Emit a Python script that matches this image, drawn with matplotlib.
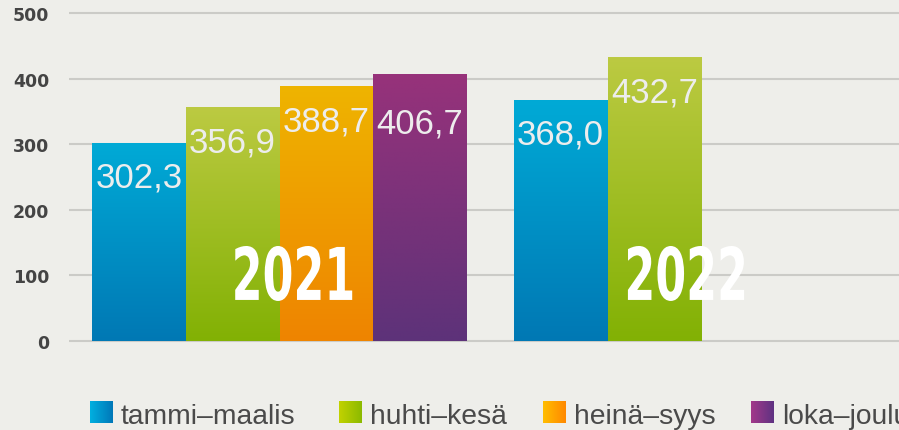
import numpy as np
import matplotlib.pyplot as plt
import matplotlib.transforms as mtransforms
from matplotlib.colors import LinearSegmentedColormap
from matplotlib.textpath import TextPath
from matplotlib.patches import PathPatch
from matplotlib.font_manager import FontProperties

# data
years = ['2021', '2022']
quarters = ['tammi–maalis', 'huhti–kesä', 'heinä–syys', 'loka–joulu']
values_2021 = [302.3, 356.9, 388.7, 406.7]
values_2022 = [368.0, 432.7]
yticks = [0, 100, 200, 300, 400, 500]

# colours: bar gradients (top / bottom) and legend gradients (left / right)
bar_top = ['#00aad6', '#bcca42', '#efb400', '#97327b']
bar_bottom = ['#0078b4', '#82b104', '#ee8400', '#5d3279']
legend_left = ['#00b0e0', '#c2d200', '#ffbe00', '#a3398a']
legend_right = ['#0077b8', '#8bba00', '#ff8800', '#5e3282']
bg = '#eeeeea'

W, H = 899, 431
fig = plt.figure(figsize=(W / 100, H / 100), dpi=100, facecolor=bg)
ax = fig.add_axes([69 / W, (H - 348.2) / H, 830 / W, (348.2 - 7.75) / H])
ax.set_facecolor(bg)

series = [values_2021, values_2022]
group_start = [0, 4.5]
# how far below the bar top the value label baseline sits (points)
label_drop = [[31.7, 31.7, 31.7, 41.8], [31.7, 31.7]]

def fmt(v):
    return f'{v:.1f}'.replace('.', ',')

vgrad = np.linspace(0, 1, 256).reshape(-1, 1)
for g, vals in enumerate(series):
    xs = group_start[g] + np.arange(len(vals))
    bars = ax.bar(xs, vals, width=1.0, color=bar_top[:len(vals)], zorder=2)
    for i, b in enumerate(bars):
        cmap = LinearSegmentedColormap.from_list('', [bar_bottom[i], bar_top[i]])
        x0, w, h = b.get_x(), b.get_width(), b.get_height()
        ax.imshow(vgrad, cmap=cmap, extent=[x0, x0 + w, 0, h], origin='lower',
                  aspect='auto', zorder=2.1)
        ax.annotate(fmt(vals[i]), xy=(x0, h), xytext=(2.2, -label_drop[g][i]),
                    textcoords='offset points', ha='left', va='baseline',
                    fontsize=25, color='#ededed', family='Liberation Sans', zorder=4)

ax.set_xlim(-0.747, 8.107)
ax.set_ylim(-10, 510)
ax.set_yticks(yticks)
ax.set_xticks([])
ax.yaxis.grid(True, color='#cbcbc7', lw=1.5)
ax.set_axisbelow(True)
for s in ax.spines.values():
    s.set_visible(False)
ax.tick_params(axis='y', length=0, pad=14.4, labelsize=12.5, labelcolor='#444444')
for lbl in ax.get_yticklabels():
    lbl.set_fontweight('bold')

# big condensed year labels
fp = FontProperties(family='Liberation Sans Narrow', weight='bold')
ref = TextPath((0, 0), years[0], size=100, prop=fp).get_extents()
sx, sy = 117 / ref.width, 55 / ref.height
year_pos = [(group_start[0] + 1.65, 102.6), (group_start[1] + 1.335, 102.6)]
for yr, (px, py) in zip(years, year_pos):
    tp = TextPath((0, 0), yr, size=100, prop=fp)
    e = tp.get_extents()
    cx, cy = ax.transData.transform((px, py))
    tr = (mtransforms.Affine2D()
          .translate(-e.x0 - e.width / 2, -e.y0 - e.height / 2)
          .scale(sx, sy).translate(cx, cy))
    patch = PathPatch(tp, transform=tr, facecolor='white', edgecolor='none',
                      zorder=6, clip_on=False)
    ax.add_artist(patch)

# legend drawn in pixel space (last entry runs off the right edge, as in the original)
lax = fig.add_axes([0, 0, 1, 1])
lax.set_xlim(0, W)
lax.set_ylim(H, 0)
lax.set_autoscale_on(False)
lax.axis('off')
renderer = fig.canvas.get_renderer()
hgrad = np.linspace(0, 1, 256).reshape(1, -1)
gaps = [43, 36, 36, 0]
x = 90
for i, q in enumerate(quarters):
    cmap = LinearSegmentedColormap.from_list('', [legend_left[i], legend_right[i]])
    lax.imshow(hgrad, cmap=cmap, extent=[x, x + 23, 424, 402], aspect='auto')
    t = lax.text(x + 31, 424, q, fontsize=20.3, color='#4a4a4a',
                 family='Liberation Sans', va='baseline')
    bb = t.get_window_extent(renderer)
    x = bb.x1 + gaps[i]

fig.savefig('out.png', dpi=100, facecolor=bg)
